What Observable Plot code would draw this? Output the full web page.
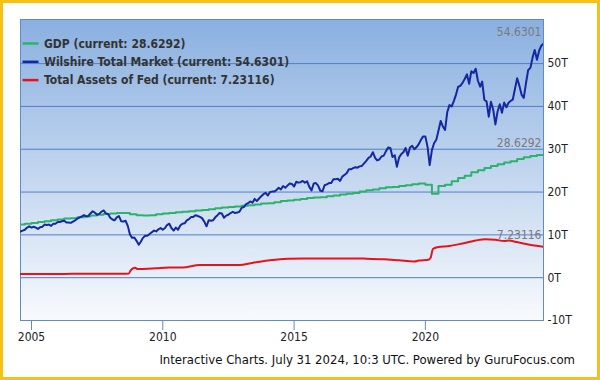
<!DOCTYPE html>
<html><head><meta charset="utf-8">
<script src="https://cdn.jsdelivr.net/npm/d3@7"></script>
<script src="https://cdn.jsdelivr.net/npm/@observablehq/plot@0.6"></script>
<style>
html,body{margin:0;padding:0;background:#fff;}
#wrap{position:relative;width:600px;height:380px;overflow:hidden;font-family:"DejaVu Sans Condensed","DejaVu Sans",sans-serif;}
#border{position:absolute;left:0;top:0;width:600px;height:380px;box-sizing:border-box;border:3px solid #f5c211;pointer-events:none;}
#chart{position:absolute;left:0;top:0;}
#caption{position:absolute;right:25px;top:352px;font-size:13px;color:#111;white-space:nowrap;}
</style></head><body>
<div id="wrap"><div id="chart"></div><div id="caption">Interactive Charts. July 31 2024, 10:3 UTC. Powered by GuruFocus.com</div><div id="border"></div></div>
<script>
// ---- Data ----
const seriesNames = ["GDP", "Wilshire Total Market", "Total Assets of Fed"];
const seriesColors = ["#2bb36a", "#1528a3", "#e8121b"];

// Wilshire total market (T), monthly from 2004-08 to 2024-07
const wilshireStart = "2004-08-01";
const wilshire = [
  10.8, 11.0, 11.2, 11.7, 12.0,
  11.7, 11.9, 11.7, 11.4, 11.8, 11.9, 12.4, 12.3, 12.4, 12.1, 12.6, 12.6,
  13.0, 13.0, 13.2, 13.3, 12.9, 12.9, 12.8, 13.1, 13.4, 13.8, 14.1, 14.3,
  14.6, 14.3, 14.4, 15.0, 15.5, 15.2, 14.7, 14.9, 15.4, 15.7, 15.0, 14.9,
  14.0, 13.6, 13.4, 14.1, 14.4, 13.2, 13.1, 13.3, 12.1, 10.1, 9.3, 9.4,
  8.6, 7.7, 8.4, 9.3, 9.8, 9.8, 10.2, 10.6, 11.0, 10.8, 11.3, 11.6,
  11.2, 11.6, 12.3, 12.6, 11.6, 11.0, 11.7, 11.2, 12.2, 12.6, 12.7, 13.4,
  13.7, 14.2, 14.2, 14.6, 14.4, 14.2, 13.9, 13.1, 12.0, 13.4, 13.3, 13.4,
  14.1, 14.6, 15.1, 15.0, 14.0, 14.5, 14.7, 15.1, 15.4, 15.1, 15.2, 15.4,
  16.3, 16.5, 17.1, 17.4, 17.8, 17.5, 18.4, 17.9, 18.5, 19.0, 19.5, 19.8,
  19.2, 20.0, 20.1, 20.1, 20.5, 21.0, 20.6, 21.4, 21.0, 21.5, 22.0, 21.9,
  21.3, 22.4, 22.2, 22.3, 22.6, 22.2, 22.5, 21.2, 20.4, 22.0, 22.1, 21.5,
  20.3, 20.2, 21.6, 21.8, 22.1, 22.1, 23.0, 23.0, 23.1, 22.6, 23.6, 24.0,
  24.4, 25.3, 25.3, 25.6, 25.8, 25.7, 26.0, 26.1, 26.7, 27.3, 28.0, 28.3,
  29.3, 28.0, 27.4, 27.6, 28.3, 28.5, 29.5, 30.4, 30.3, 28.2, 28.6, 25.9,
  28.1, 28.9, 29.3, 30.3, 28.5, 30.4, 30.8, 30.0, 30.5, 31.2, 32.2, 33.0,
  33.0, 30.5, 26.3, 29.8, 31.4, 32.2, 34.3, 36.6, 35.3, 34.5, 38.7, 40.3,
  40.0, 41.3, 42.7, 44.6, 44.8, 45.5, 46.4, 47.5, 45.3, 48.2, 47.8, 48.8,
  46.0, 44.6, 45.8, 41.5, 41.2, 37.6, 41.1, 39.3, 35.8, 38.8, 40.5, 38.5,
  40.9, 39.8, 40.8, 41.3, 41.6, 44.2, 46.6, 44.8, 42.7, 42.0, 45.5, 48.5,
  49.0, 51.5, 53.2, 50.9, 53.0, 54.2, 54.6301
];

// GDP (T), quarterly from 2004-07
const gdpStart = "2004-07-01";
const gdp = [
  12.4, 12.6,
  12.8, 13.0, 13.2, 13.4,
  13.6, 13.8, 13.9, 14.1,
  14.3, 14.5, 14.7, 14.9,
  15.0, 15.1, 15.1, 14.8,
  14.6, 14.5, 14.6, 14.8,
  15.0, 15.1, 15.3, 15.4,
  15.5, 15.7, 15.8, 16.0,
  16.2, 16.4, 16.5, 16.6,
  16.8, 16.9, 17.1, 17.3,
  17.4, 17.6, 17.9, 18.0,
  18.2, 18.4, 18.6, 18.7,
  18.8, 19.0, 19.2, 19.4,
  19.6, 19.8, 20.1, 20.4,
  20.6, 20.9, 21.1, 21.2,
  21.4, 21.6, 21.8, 22.0,
  21.7, 19.6, 21.4, 21.7,
  22.5, 23.3, 23.8, 24.6,
  25.1, 25.6, 26.1, 26.5,
  26.9, 27.2, 27.7, 28.1,
  28.4, 28.6292, 28.6292
];

// Total assets of Fed (T)
const fedDates = [
  "2004-08-01","2005-08-01","2006-08-01","2007-08-01","2008-08-01","2008-09-15","2008-10-15","2008-12-15",
  "2009-01-15","2009-04-01","2009-10-01","2010-04-01","2010-10-01","2011-06-01","2012-06-01","2012-12-01",
  "2013-06-01","2014-01-01","2014-10-01","2015-06-01","2017-06-01","2017-10-01","2018-06-01","2019-01-01",
  "2019-08-01","2019-10-01","2020-02-15","2020-03-15","2020-04-15","2020-06-15","2020-12-01","2021-06-01",
  "2021-12-01","2022-04-15","2022-09-01","2023-01-01","2023-03-15","2023-06-01","2023-12-01","2024-07-01"
];
const fedValues = [
  0.86, 0.88, 0.89, 0.90, 0.92, 0.95, 1.8, 2.3,
  2.0, 2.05, 2.2, 2.35, 2.35, 2.95, 2.95, 2.95,
  3.45, 4.0, 4.45, 4.5, 4.5, 4.45, 4.3, 4.05,
  3.8, 4.0, 4.2, 4.7, 6.7, 7.1, 7.4, 8.0,
  8.7, 9.0, 8.85, 8.55, 8.7, 8.4, 7.75, 7.23116
];

const yTicks = [-10, 0, 10, 20, 30, 40, 50];
const xTickYears = [2005, 2010, 2015, 2020];

// ---- Build tables ----
const wilData = wilshire.map((v, i) => ({date: d3.utcMonth.offset(new Date(wilshireStart), i), value: v}));
const gdpData = gdp.map((v, i) => ({date: d3.utcMonth.offset(new Date(gdpStart), 3 * i), value: v}));
const fedData = fedValues.map((v, i) => ({date: new Date(fedDates[i]), value: v}));
const allSeries = [gdpData, wilData, fedData];
const lastPoints = allSeries.map(s => s[s.length - 1]);
const xTicks = xTickYears.map(y => new Date(Date.UTC(y, 0, 1)));

const font = '"DejaVu Sans Condensed","DejaVu Sans",sans-serif';

const plot = Plot.plot({
  width: 600, height: 345,
  marginLeft: 20, marginRight: 57, marginTop: 19, marginBottom: 25,
  style: {fontFamily: font, fontSize: "12px", color: "#222", background: "transparent", overflow: "visible"},
  x: {type: "utc", domain: [new Date("2004-08-01"), new Date("2024-07-01")], label: null},
  y: {domain: [-10, 60.3], label: null},
  marks: [
    Plot.frame({fill: "url(#bgGrad)", stroke: null}),
    Plot.gridY(yTicks, {stroke: "#4f7fc8", strokeOpacity: 1}),
    Plot.frame({stroke: "#5f8cc9"}),
    Plot.axisX(xTicks, {tickSize: 10, tickPadding: 2, tickFormat: d => String(d.getUTCFullYear()), stroke: "#5f8cc9", fill: "#222", label: null}),
    Plot.axisY(yTicks, {anchor: "right", tickSize: 0, tickPadding: 4, tickFormat: d => d + "T", fill: "#222", label: null}),
    Plot.line(gdpData, {x: "date", y: "value", stroke: seriesColors[0], strokeWidth: 2, curve: "step-after", clip: true}),
    Plot.line(wilData, {x: "date", y: "value", stroke: seriesColors[1], strokeWidth: 2, clip: true}),
    Plot.line(fedData, {x: "date", y: "value", stroke: seriesColors[2], strokeWidth: 2, curve: "monotone-x", clip: true}),
    Plot.text(lastPoints, {x: "date", y: "value", text: d => String(d.value), textAnchor: "end", dx: -2, dy: -12, fill: "#7a7a7a", fontSize: 12})
  ]
});

const svg = d3.select(plot);
const defs = svg.insert("defs", ":first-child");
const grad = defs.append("linearGradient").attr("id", "bgGrad").attr("x1", 0).attr("y1", 0).attr("x2", 0).attr("y2", 1);
grad.append("stop").attr("offset", "0%").attr("stop-color", "#8ab0e0");
grad.append("stop").attr("offset", "100%").attr("stop-color", "#f8fafd");

// Legend inside plot
const lg = svg.append("g").attr("font-family", font).attr("font-size", 12).attr("font-weight", "bold").attr("text-anchor", "start");
seriesNames.forEach((name, i) => {
  const y = 43.5 + 18.3 * i;
  const s = allSeries[i];
  lg.append("line").attr("x1", 22.5).attr("x2", 38.5).attr("y1", y).attr("y2", y)
    .attr("stroke", seriesColors[i]).attr("stroke-width", 2.5);
  lg.append("text").attr("x", 44).attr("y", y).attr("dy", "0.35em").attr("fill", "#333")
    .text(`${name} (current: ${s[s.length - 1].value})`);
});

document.getElementById("chart").appendChild(plot);
</script>
</body></html>
